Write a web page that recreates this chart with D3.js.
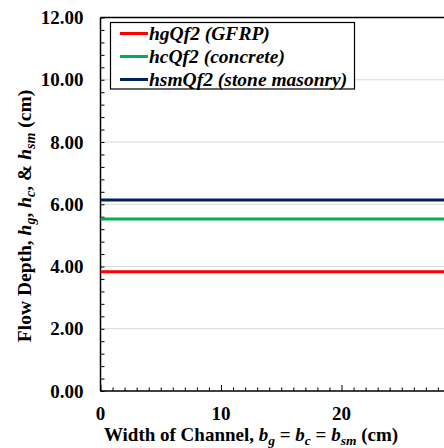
<!DOCTYPE html>
<html><head><meta charset="utf-8">
<script src="https://cdn.jsdelivr.net/npm/d3@7"></script>
<style>
html,body{margin:0;padding:0;background:#fff;}
svg{display:block;font-family:"Liberation Serif","Times New Roman",serif;}
</style></head>
<body><svg id="c" width="444" height="448"></svg>
<script>
const widths = [0, 30];
const hgQf2 = [3.83, 3.83];
const hcQf2 = [5.53, 5.53];
const hsmQf2 = [6.14, 6.14];
const seriesNames = ["hgQf2 (GFRP)", "hcQf2 (concrete)", "hsmQf2 (stone masonry)"];
const seriesColors = ["#ff0000", "#00b050", "#002060"];
const yTicks = [0, 2, 4, 6, 8, 10, 12];
const xTicks = [0, 10, 20];

const svg = d3.select("#c");
const L = 100.5, T = 17.5, B = 391;
const x = d3.scaleLinear().domain([0, 30]).range([L, L + 30 * 12.05]);
const y = d3.scaleLinear().domain([0, 12]).range([B, T]);

// grid
svg.append("g").selectAll("line").data(yTicks.filter(d => d > 0)).join("line")
  .attr("x1", L).attr("x2", 444).attr("y1", d => y(d)).attr("y2", d => y(d))
  .attr("stroke", "#d9d9d9").attr("stroke-width", 1);

// top border
svg.append("line").attr("x1", L).attr("x2", 444).attr("y1", T).attr("y2", T)
  .attr("stroke", "#000").attr("stroke-width", 1.3);

// y axis
const yMinor = d3.range(0, 12.001, 0.4);
const yAxis = d3.axisLeft(y).tickValues(yMinor).tickSize(-4).tickFormat("");
const gy = svg.append("g").attr("transform", `translate(${L},0)`).call(yAxis);
gy.select(".domain").attr("stroke-width", 1.5).attr("d", `M0,${B}V${T}`);
gy.selectAll(".tick line").attr("stroke-width", 1);
svg.append("g").selectAll("text").data(yTicks).join("text")
  .attr("x", 83.5).attr("y", d => y(d) + 6.5).attr("text-anchor", "end")
  .attr("font-size", 19).attr("font-weight", "bold").text(d => d.toFixed(2));

// x axis
const xMinor = d3.range(0, 31, 1);
const xAxis = d3.axisBottom(x).tickValues(xMinor).tickSize(-3.5).tickFormat("");
const gx = svg.append("g").attr("transform", `translate(0,${B})`).call(xAxis);
gx.select(".domain").attr("stroke-width", 1.5).attr("d", `M${L},0H444`);
gx.selectAll(".tick line").attr("stroke-width", 1)
  .attr("y2", d => (d % 10 === 0 ? -6 : -3.5));
svg.append("g").selectAll("text").data(xTicks).join("text")
  .attr("x", d => x(d)).attr("y", 419.5).attr("text-anchor", "middle")
  .attr("font-size", 19).attr("font-weight", "bold").text(d => d);

// series
const series = [hgQf2, hcQf2, hsmQf2];
const line = d3.line().x((d, i) => x(widths[i])).y(d => y(d));
svg.append("g").selectAll("path").data(series).join("path")
  .attr("d", d => line(d)).attr("fill", "none")
  .attr("stroke", (d, i) => seriesColors[i]).attr("stroke-width", 3);

// legend
const lg = svg.append("g");
lg.append("rect").attr("x", 110.5).attr("y", 22.5).attr("width", 244).attr("height", 66.5)
  .attr("fill", "#fff").attr("stroke", "#000").attr("stroke-width", 1.2);
seriesNames.forEach((n, i) => {
  const yy = 33.5 + i * 23;
  lg.append("line").attr("x1", 120).attr("x2", 148).attr("y1", yy).attr("y2", yy)
    .attr("stroke", seriesColors[i]).attr("stroke-width", 3);
  lg.append("text").attr("x", 149).attr("y", yy + 6.5).attr("font-size", 19.5)
    .attr("font-weight", "bold").attr("font-style", "italic").text(n);
});

// x title
const xt = svg.append("text").attr("x", 251).attr("y", 441).attr("text-anchor", "middle")
  .attr("font-size", 19).attr("font-weight", "bold");
function addParts(t, parts, sub) {
  parts.forEach(p => {
    const s = t.append("tspan").text(p[0]);
    if (p[1]) s.attr("font-style", "italic");
    if (p[2]) s.attr("font-size", sub).attr("baseline-shift", "-25%");
  });
}
addParts(xt, [["Width of Channel, "], ["b", 1], ["g", 1, 1], [" = "], ["b", 1], ["c", 1, 1], [" = "], ["b", 1], ["sm", 1, 1], [" (cm)"]], 13.5);

// y title
const yt = svg.append("text").attr("transform", "translate(31,216) rotate(-90)")
  .attr("text-anchor", "middle").attr("font-size", 19.5).attr("font-weight", "bold");
addParts(yt, [["Flow Depth, "], ["h", 1], ["g", 1, 1], [", "], ["h", 1], ["c", 1, 1], [", & "], ["h", 1], ["sm", 1, 1], [" (cm)"]], 14);
</script></body></html>
